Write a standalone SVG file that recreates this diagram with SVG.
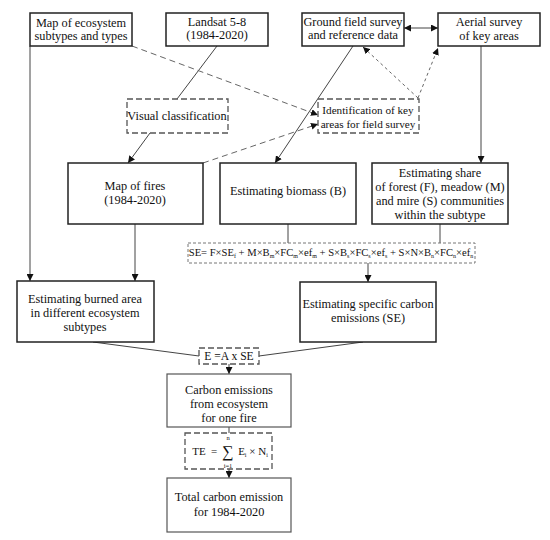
<svg xmlns="http://www.w3.org/2000/svg" width="550" height="540" viewBox="0 0 550 540">
<defs>
<marker id="ah" viewBox="0 0 10 10" refX="10" refY="5" markerWidth="7" markerHeight="7" orient="auto-start-reverse" markerUnits="userSpaceOnUse">
<path d="M0,0 L10,5 L0,10 z" fill="#111"/>
</marker>
<style>
.box{fill:#fff;stroke:#222;stroke-width:1.5}
.box2{fill:#fff;stroke:#555;stroke-width:1.2}
.dbox{fill:#fff;stroke:#555;stroke-width:1.3;stroke-dasharray:6,3}
.fbox{fill:#fff;stroke:#777;stroke-width:1;stroke-dasharray:3,2}
.ln{fill:none;stroke:#444;stroke-width:1}
.dl{fill:none;stroke:#666;stroke-width:1;stroke-dasharray:6,4}
.dt{fill:none;stroke:#666;stroke-width:1;stroke-dasharray:3,3}
text{font-family:"Liberation Serif","DejaVu Serif",serif;font-size:12.3px;fill:#111;text-anchor:middle}
.sub{font-size:6px}
.sm{font-size:11.6px}
.id{font-size:11.2px}
.f11{font-size:11px}
.lim{font-size:6.5px}
</style>
</defs>
<rect width="550" height="540" fill="#fff"/>
<g id="connectors">
<line class="ln" x1="30" y1="46" x2="30" y2="281" marker-end="url(#ah)"/>
<line class="ln" x1="217" y1="46" x2="177" y2="99"/>
<line class="ln" x1="150" y1="133" x2="128" y2="163" marker-end="url(#ah)"/>
<line class="dl" x1="132" y1="46" x2="318" y2="115" marker-end="url(#ah)"/>
<line class="dl" x1="203" y1="163" x2="318" y2="124" marker-end="url(#ah)"/>
<line class="dt" x1="418" y1="98" x2="363" y2="47" marker-end="url(#ah)"/>
<line class="dt" x1="418" y1="98" x2="438" y2="48" marker-end="url(#ah)"/>
<line class="ln" x1="404" y1="28" x2="438" y2="28" stroke="#111" marker-start="url(#ah)" marker-end="url(#ah)"/>
<line class="ln" x1="353" y1="46" x2="275" y2="163" marker-end="url(#ah)"/>
<line class="ln" x1="481" y1="46" x2="481" y2="163" marker-end="url(#ah)"/>
<line class="ln" x1="135" y1="224" x2="135" y2="281" marker-end="url(#ah)"/>
<line class="ln" x1="288" y1="224" x2="288" y2="243"/>
<line class="ln" x1="440" y1="224" x2="440" y2="243"/>
<line class="ln" x1="368" y1="263" x2="368" y2="282" marker-end="url(#ah)"/>
<line class="ln" x1="93" y1="342" x2="199" y2="356"/>
<line class="ln" x1="363" y1="342" x2="259" y2="356"/>
<line class="ln" x1="229" y1="364" x2="229" y2="374" marker-end="url(#ah)"/>
<line class="ln" x1="229" y1="427" x2="229" y2="433"/>
<line class="ln" x1="229" y1="469" x2="229" y2="478" marker-end="url(#ah)"/>
</g>
<g id="map-ecosystem">
<rect class="box" x="30" y="13" width="102" height="33"/>
<text x="81" y="27">Map of ecosystem</text>
<text x="81" y="40">subtypes and types</text>
</g>
<g id="landsat">
<rect class="box" x="166" y="13" width="102" height="33"/>
<text x="217" y="26">Landsat 5-8</text>
<text x="217" y="39">(1984-2020)</text>
</g>
<g id="ground">
<rect class="box" x="302" y="13" width="102" height="33"/>
<text x="353" y="26">Ground field survey</text>
<text x="353" y="39">and reference data</text>
</g>
<g id="aerial">
<rect class="box" x="438" y="13" width="102" height="33"/>
<text x="489" y="26">Aerial survey</text>
<text x="489" y="40">of key areas</text>
</g>
<g id="visual">
<rect class="dbox" x="127" y="99" width="101" height="34"/>
<text x="177" y="120">Visual classification</text>
</g>
<g id="identification">
<rect class="dbox" x="318" y="99" width="101" height="34"/>
<text class="id" x="368" y="114">Identification of key</text>
<text class="id" x="368" y="128">areas for field survey</text>
</g>
<g id="map-fires">
<rect class="box" x="68" y="163" width="135" height="61"/>
<text x="135" y="190">Map of  fires</text>
<text x="135" y="204">(1984-2020)</text>
</g>
<g id="biomass">
<rect class="box" x="220" y="163" width="136" height="61"/>
<text x="288" y="195">Estimating biomass (B)</text>
</g>
<g id="share">
<rect class="box" x="372" y="163" width="136" height="61"/>
<text x="440" y="177">Estimating share</text>
<text x="440" y="191">of forest (F), meadow (M)</text>
<text x="440" y="205">and mire (S) communities</text>
<text x="440" y="219">within the subtype</text>
</g>
<g id="se-formula">
<rect class="fbox" x="188" y="243" width="287" height="20"/>
<text x="331" y="256" style="font-size:10.6px">SE= F×SE<tspan class="sub" dy="2">f</tspan><tspan dy="-2"> + M×B</tspan><tspan class="sub" dy="2">m</tspan><tspan dy="-2">×FC</tspan><tspan class="sub" dy="2">m</tspan><tspan dy="-2">×ef</tspan><tspan class="sub" dy="2">m</tspan><tspan dy="-2"> + S×B</tspan><tspan class="sub" dy="2">s</tspan><tspan dy="-2">×FC</tspan><tspan class="sub" dy="2">s</tspan><tspan dy="-2">×ef</tspan><tspan class="sub" dy="2">s</tspan><tspan dy="-2"> + S×N×B</tspan><tspan class="sub" dy="2">n</tspan><tspan dy="-2">×FC</tspan><tspan class="sub" dy="2">n</tspan><tspan dy="-2">×ef</tspan><tspan class="sub" dy="2">n</tspan></text>
</g>
<g id="burned">
<rect class="box" x="17" y="281" width="137" height="61"/>
<text x="85" y="303">Estimating burned area</text>
<text x="85" y="317">in different ecosystem</text>
<text x="85" y="331">subtypes</text>
</g>
<g id="specific">
<rect class="box" x="300" y="282" width="136" height="60"/>
<text x="368" y="308">Estimating specific carbon</text>
<text x="368" y="322">emissions (SE)</text>
</g>
<g id="e-formula">
<rect class="dbox" x="199" y="348" width="60" height="16"/>
<text class="sm" x="229" y="360">E =A x SE</text>
</g>
<g id="carbon">
<rect class="box2" x="167" y="374" width="124" height="53"/>
<text x="229" y="394">Carbon emissions</text>
<text x="229" y="408">from ecosystem</text>
<text x="229" y="422">for one fire</text>
</g>
<g id="te-formula">
<rect class="dbox" x="185" y="433" width="87" height="36"/>
<text class="f11" x="199" y="455">TE</text>
<text class="f11" x="214" y="455">=</text>
<text x="228" y="457" style="font-size:16px">∑</text>
<text class="lim" x="228" y="440">n</text>
<text class="lim" x="228" y="468">i=1</text>
<text class="f11" x="253" y="455">E<tspan class="sub" dy="2">i</tspan><tspan dy="-2"> × N</tspan><tspan class="sub" dy="2">i</tspan></text>
</g>
<g id="total">
<rect class="box2" x="167" y="478" width="124" height="54"/>
<text x="229" y="501">Total carbon emission</text>
<text x="229" y="516">for 1984-2020</text>
</g>
</svg>
